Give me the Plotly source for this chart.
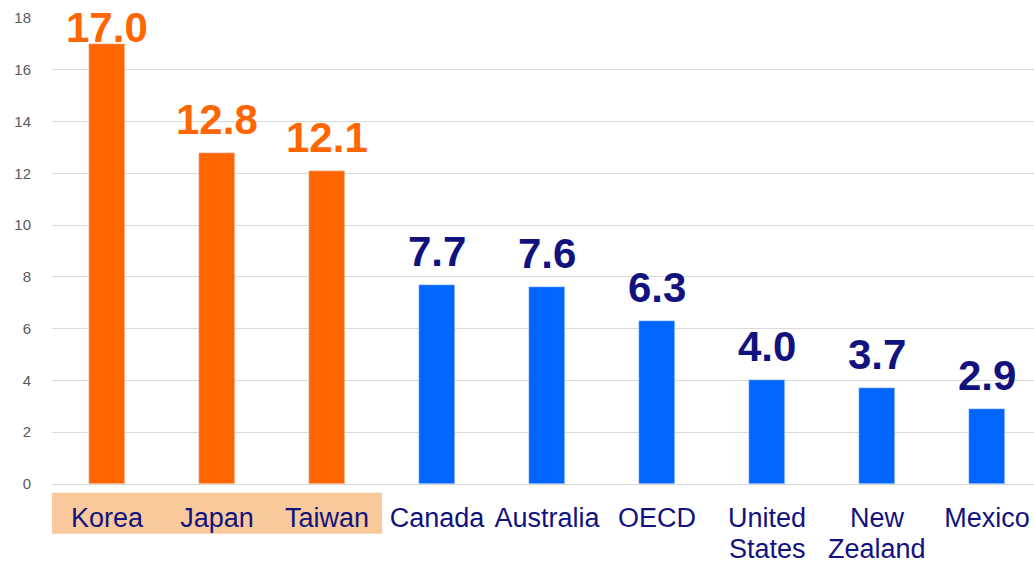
import plotly.graph_objects as go

# Categories and values
countries = ["Korea", "Japan", "Taiwan", "Canada", "Australia", "OECD",
             "United<br>States", "New<br>Zealand", "Mexico"]
values = [17.0, 12.8, 12.1, 7.7, 7.6, 6.3, 4.0, 3.7, 2.9]
highlighted = [True, True, True, False, False, False, False, False, False]
y_ticks = [0, 2, 4, 6, 8, 10, 12, 14, 16, 18]

ORANGE = "#FF6600"
BLUE = "#0066FF"
NAVY = "#12127F"
PEACH = "#F9C99B"
FONT = "Liberation Sans, Arial"

W, H = 1034, 563
M_TOP, M_BOT = 18, 79
Y_MAX = 18
plot_h = H - M_TOP - M_BOT

bar_colors = [ORANGE if h else BLUE for h in highlighted]
label_colors = [ORANGE if h else NAVY for h in highlighted]
xs = list(range(len(countries)))

fig = go.Figure()
fig.add_trace(go.Bar(
    x=xs, y=values, marker_color=bar_colors, width=0.32,
    hoverinfo="skip",
))

# Value labels above each bar; a label that would run off the top of the
# figure is pushed down so it stays visible.
LABEL_FONT = 42
BASE_SHIFT = 8           # gap between bar top and label
LABEL_SPAN = 47          # gap + cap height, in pixels
for x, v, c in zip(xs, values, label_colors):
    bar_top_px = M_TOP + (Y_MAX - v) / Y_MAX * plot_h
    cap_top = bar_top_px - LABEL_SPAN
    shift = BASE_SHIFT - max(0, 14 - cap_top)
    fig.add_annotation(
        x=x, y=v, text=f"{v:.1f}", showarrow=False,
        xref="x", yref="y", yanchor="bottom", yshift=shift,
        font=dict(family=FONT, size=LABEL_FONT, color=c, weight="bold"),
    )

# Category labels: first line as tick text, a wrapped second line set
# just beneath it with tighter line spacing.
TICK_FONT = 27
first_lines = [c.split("<br>")[0] for c in countries]
LINE2_TOP_PX = 532
for x, c in zip(xs, countries):
    parts = c.split("<br>")
    if len(parts) > 1:
        fig.add_annotation(
            x=x, y=-(LINE2_TOP_PX - (H - M_BOT)) / plot_h,
            xref="x", yref="paper", yanchor="top", showarrow=False,
            text=parts[1],
            font=dict(family=FONT, size=TICK_FONT, color=NAVY),
        )

# Shaded band behind the highlighted category labels
n_high = sum(highlighted)
fig.add_shape(
    type="rect", xref="x", yref="paper",
    x0=-0.55, x1=n_high - 0.5, y0=-0.107, y1=-0.019,
    fillcolor=PEACH, line_width=0, layer="below",
)

fig.update_layout(
    width=W, height=H,
    margin=dict(l=52, r=0, t=M_TOP, b=M_BOT),
    paper_bgcolor="white", plot_bgcolor="white",
    showlegend=False,
    bargap=0,
    xaxis=dict(
        range=[-0.5, 8.427], automargin=False,
        tickmode="array", tickvals=xs, ticktext=first_lines,
        tickfont=dict(family=FONT, size=TICK_FONT, color=NAVY),
        showgrid=False, showline=False, zeroline=False,
        ticks="", ticklabelstandoff=15,
    ),
    yaxis=dict(
        range=[0, Y_MAX], automargin=False,
        tickmode="array", tickvals=y_ticks,
        tickfont=dict(family=FONT, size=15, color="#595959"),
        showgrid=True, gridcolor="#D9D9D9", gridwidth=1,
        zeroline=True, zerolinecolor="#D9D9D9", zerolinewidth=1,
        showline=False, ticks="", ticklabelstandoff=20,
    ),
)

fig.write_html("out.html")
